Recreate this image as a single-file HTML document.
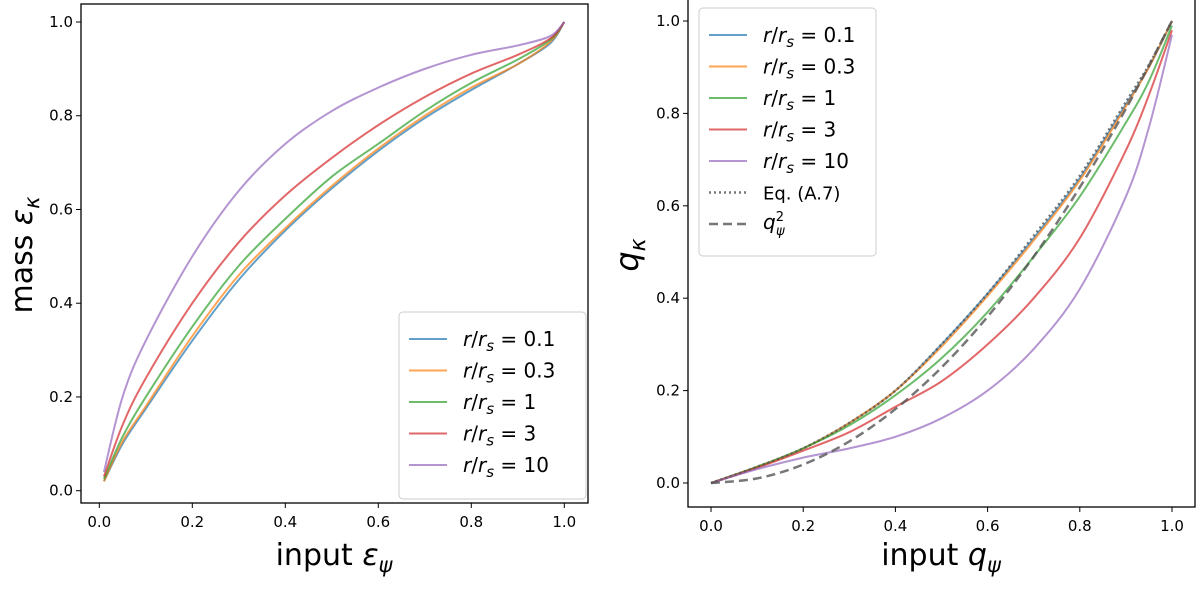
<!DOCTYPE html>
<html><head><meta charset="utf-8"><style>
body{margin:0;background:#fff}
svg{font-family:"DejaVu Sans","Liberation Sans",sans-serif}
</style></head><body>
<svg id="c" width="1200" height="585" viewBox="0 0 1200 585"></svg>
<script>
const xsL=[0.01,0.05,0.1,0.2,0.3,0.4,0.5,0.6,0.7,0.8,0.9,0.97,1];
const lBlue=[0.02,0.1,0.175,0.32,0.45,0.555,0.645,0.725,0.795,0.855,0.91,0.955,1];
const lOrange=[0.02,0.105,0.18,0.33,0.46,0.56,0.65,0.73,0.8,0.86,0.91,0.958,1];
const lGreen=[0.025,0.115,0.2,0.35,0.48,0.58,0.67,0.74,0.81,0.87,0.92,0.962,1];
const lRed=[0.03,0.14,0.24,0.4,0.53,0.63,0.71,0.78,0.84,0.89,0.93,0.965,1];
const lPurple=[0.04,0.2,0.32,0.5,0.64,0.74,0.81,0.86,0.9,0.93,0.95,0.97,1];
const xsR=[0,0.1,0.2,0.3,0.4,0.5,0.6,0.7,0.8,0.9,0.95,1];
const rBlue=[0,0.035,0.075,0.13,0.2,0.3,0.41,0.53,0.66,0.82,0.9,1];
const rOrange=[0,0.035,0.075,0.13,0.2,0.295,0.405,0.525,0.655,0.815,0.9,1];
const rGreen=[0,0.035,0.075,0.125,0.19,0.27,0.37,0.49,0.62,0.78,0.87,0.99];
const rRed=[0,0.033,0.07,0.11,0.165,0.22,0.3,0.4,0.53,0.72,0.84,0.98];
const rPurple=[0,0.03,0.055,0.075,0.1,0.14,0.2,0.29,0.42,0.62,0.77,0.97];
const rDotted=[0,0.035,0.075,0.13,0.2,0.3,0.41,0.535,0.665,0.825,0.905,1];
const xsSq=[0,0.1,0.2,0.3,0.4,0.5,0.6,0.7,0.8,0.9,1];
const rSquare=[0,0.01,0.04,0.09,0.16,0.25,0.36,0.49,0.64,0.81,1];
const ticks=[0,0.2,0.4,0.6,0.8,1.0];
const tickLabels=["0.0","0.2","0.4","0.6","0.8","1.0"];
const colors=["#1f77b4","#ff7f0e","#2ca02c","#d62728","#9467bd"];
const names=["0.1","0.3","1","3","10"];
const svg=document.getElementById('c');const NS="http://www.w3.org/2000/svg";
function mk(t,a,p){const e=document.createElementNS(NS,t);for(const k in a)e.setAttribute(k,a[k]);(p||svg).appendChild(e);return e;}
function smooth(pts){
 let d='M'+pts[0][0]+','+pts[0][1];
 for(let i=0;i<pts.length-1;i++){
  const p0=pts[Math.max(0,i-1)],p1=pts[i],p2=pts[i+1],p3=pts[Math.min(pts.length-1,i+2)];
  const c1=[p1[0]+(p2[0]-p0[0])/6,p1[1]+(p2[1]-p0[1])/6];
  const c2=[p2[0]-(p3[0]-p1[0])/6,p2[1]-(p3[1]-p1[1])/6];
  d+=' C'+c1+' '+c2+' '+p2;
 }
 return d;
}
function panel(P){
 const X=v=>P.x0+(v)*P.xs, Y=v=>P.y0-v*P.ys;
 const g=mk('g',{});
 
 
 P.series.forEach((s,i)=>{
  const p=mk('path',{d:smooth(s.xs.map((x,j)=>[X(x),Y(s.ys[j])])),fill:'none',stroke:s.c,'stroke-width':s.w||2,'stroke-opacity':s.o||0.7,'stroke-dasharray':s.d||''},g);
  
  
 });
 const f=mk('rect',{x:P.fx0,y:P.fy0,width:P.fx1-P.fx0,height:P.fy1-P.fy0,fill:'none',stroke:'#000','stroke-width':1.3},g);
 
 
 ticks.forEach((t,i)=>{
  mk('line',{x1:X(t),x2:X(t),y1:P.fy1,y2:P.fy1+5,stroke:'#000'},g);
  const tx=mk('text',{x:X(t),y:P.fy1+24,'font-size':15,'text-anchor':'middle'},g);tx.textContent=tickLabels[i];
  
  
  mk('line',{x1:P.fx0-5,x2:P.fx0,y1:Y(t),y2:Y(t),stroke:'#000'},g);
  const ty=mk('text',{x:P.fx0-8,y:Y(t)+5,'font-size':15,'text-anchor':'end'},g);ty.textContent=tickLabels[i];
  
  
 });
 return g;
}
panel({name:'left-panel',x0:99.3,xs:465,y0:490.7,ys:468.7,fx0:81,fx1:588,fy0:4,fy1:503,
 series:[lBlue,lOrange,lGreen,lRed,lPurple].map((ys,i)=>({xs:xsL,ys:ys,c:colors[i],n:'line-left-r'+names[i]}))});
panel({name:'right-panel',x0:711,xs:461,y0:483,ys:462,fx0:688,fx1:1195,fy0:-1,fy1:507,
 series:[rBlue,rOrange,rGreen,rRed,rPurple].map((ys,i)=>({xs:xsR,ys:ys,c:colors[i],n:'line-right-r'+names[i]}))
 .concat([{xs:xsR,ys:rDotted,c:'#555',d:'2,3',w:2.5,o:0.8,n:'line-eq-a7'},{xs:xsSq,ys:rSquare,c:'#555',d:'9,5',w:2.5,o:0.8,n:'line-q-squared'}])});
function legend(x,y,w,h,extra,nm){
 const g=mk('g',{});
 
 
 mk('rect',{x:x,y:y,width:w,height:h,rx:4,fill:'#fff','fill-opacity':0.8,stroke:'#ccc'},g);
 names.forEach((n,i)=>{
  const yy=y+27+i*31.5;
  mk('line',{x1:x+10,x2:x+48,y1:yy,y2:yy,stroke:colors[i],'stroke-width':2,'stroke-opacity':0.7},g);
  const t=mk('text',{x:x+64,y:yy+7,'font-size':20},g);
  t.innerHTML='<tspan font-style="italic">r</tspan>/<tspan font-style="italic">r</tspan><tspan font-style="italic" font-size="15" dy="5">s</tspan><tspan dy="-5"> = '+n+'</tspan>';
  
  
 });
 if(extra){
  let yy=y+27+5*31.5;
  mk('line',{x1:x+10,x2:x+48,y1:yy,y2:yy,stroke:'#555','stroke-width':2.5,'stroke-dasharray':'2,3','stroke-opacity':0.8},g);
  let t=mk('text',{x:x+64,y:yy+7,'font-size':18},g);t.textContent='Eq. (A.7)';
  
  
  yy+=31.5;
  mk('line',{x1:x+10,x2:x+48,y1:yy,y2:yy,stroke:'#555','stroke-width':2.5,'stroke-dasharray':'9,5','stroke-opacity':0.8},g);
  t=mk('text',{x:x+64,y:yy+5,'font-size':20},g);
  t.innerHTML='<tspan font-style="italic">q</tspan><tspan font-size="13" dy="-8">2</tspan><tspan font-size="13" font-style="italic" dx="-8" dy="14">ψ</tspan>';
  
  
 }
}
legend(399,312,187,187,false,'legend-left');
legend(699,8,177,248,true,'legend-right');
let t=mk('text',{x:334,y:565,'font-size':30,'text-anchor':'middle'});
t.innerHTML='input <tspan font-style="italic">ε</tspan><tspan font-style="italic" font-size="21" dy="7">ψ</tspan>';


t=mk('text',{x:941,y:565,'font-size':30,'text-anchor':'middle'});
t.innerHTML='input <tspan font-style="italic">q</tspan><tspan font-style="italic" font-size="21" dy="7">ψ</tspan>';


t=mk('text',{x:0,y:0,'font-size':30,'text-anchor':'middle',transform:'translate(32,255) rotate(-90)'});
t.innerHTML='mass <tspan font-style="italic">ε</tspan><tspan font-style="italic" font-size="21" dy="7">κ</tspan>';


t=mk('text',{x:0,y:0,'font-size':32,'text-anchor':'middle',transform:'translate(638,255) rotate(-90)'});
t.innerHTML='<tspan font-style="italic">q</tspan><tspan font-style="italic" font-size="22" dy="7">κ</tspan>';


</script>
</body></html>
